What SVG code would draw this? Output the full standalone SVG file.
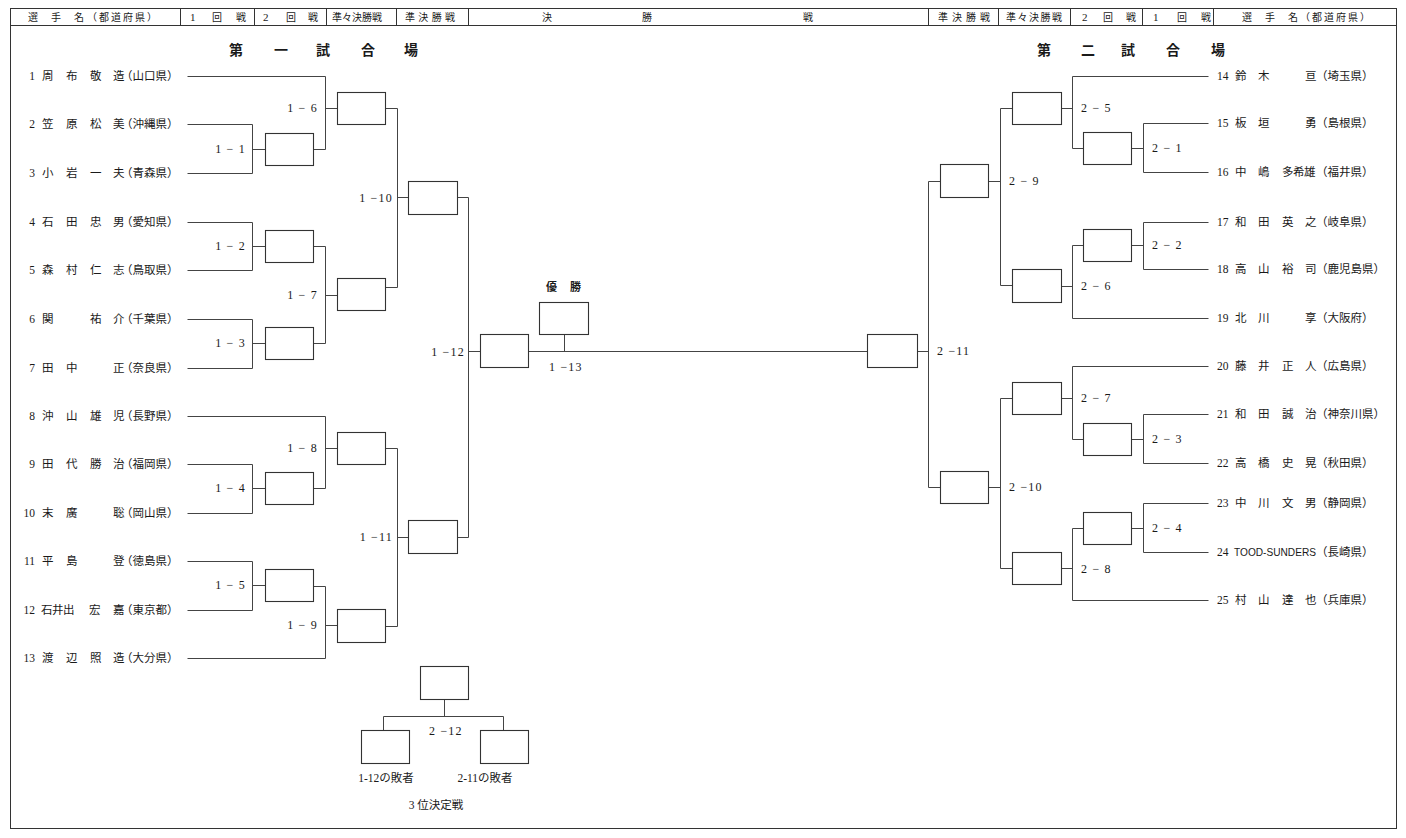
<svg xmlns="http://www.w3.org/2000/svg" width="1406" height="838" viewBox="0 0 1406 838">
<style>
text{font-family:"Liberation Serif","Noto Sans CJK JP",serif;fill:#1a1a1a}
.h{font-family:"Noto Sans CJK JP",sans-serif;font-size:10px}
.hd{font-family:"Liberation Serif","Noto Sans CJK JP",serif;font-size:11px}
.t{font-family:"Noto Sans CJK JP",sans-serif;font-size:14px;font-weight:bold}
.n{font-size:11.5px}
.l{font-size:12px;letter-spacing:1.2px}
.e{text-anchor:end}
.m{text-anchor:middle}
.frame{fill:none;stroke:#333;stroke-width:1}
.ln{fill:none;stroke:#444;stroke-width:1}
.bx{fill:#fff;stroke:#333;stroke-width:1.1}
</style>
<g id="frame" transform="translate(0.5,0.5)">
<rect class="frame" x="10" y="8" width="1386" height="820"/>
<path class="frame" d="M10 25H1396M180 8V25M254 8V25M326 8V25M396 8V25M468 8V25M928 8V25M998 8V25M1070 8V25M1142 8V25M1213 8V25"/>
</g>
<g id="header-text">
<text class="h" x="28 51 74" y="21">選手名</text>
<text class="h" x="87" y="21" textLength="70" lengthAdjust="spacing">（都道府県）</text>
<text class="hd" x="190" y="21">1</text><text class="h" x="212 236" y="21">回戦</text>
<text class="hd" x="263" y="21">2</text><text class="h" x="286 308" y="21">回戦</text>
<text class="h" x="332" y="21" textLength="50" lengthAdjust="spacing">準々決勝戦</text>
<text class="h" x="405" y="21" textLength="50" lengthAdjust="spacing">準決勝戦</text>
<text class="h" x="542 642 803" y="21">決勝戦</text>
<text class="h" x="938" y="21" textLength="52" lengthAdjust="spacing">準決勝戦</text>
<text class="h" x="1006" y="21" textLength="56" lengthAdjust="spacing">準々決勝戦</text>
<text class="hd" x="1082" y="21">2</text><text class="h" x="1103 1126" y="21">回戦</text>
<text class="hd" x="1153" y="21">1</text><text class="h" x="1177 1201" y="21">回戦</text>
<text class="h" x="1242 1265 1288" y="21">選手名</text>
<text class="h" x="1300" y="21" textLength="70" lengthAdjust="spacing">（都道府県）</text>
</g>
<g id="title1"><text class="t" x="229 274 316 361 404" y="55">第一試合場</text></g>
<g id="title2"><text class="t" x="1037 1081 1121 1166 1211" y="55">第二試合場</text></g>

<g id="connectors" class="ln" transform="translate(0.5,0.5)">
<path d="M187 76H325M187 124H252M187 173H252M252 124V173M252 149H265M313 149H325M325 76V149M325 108H337"/>
<path d="M187 222H252M187 270H252M252 222V270M252 246H265M187 319H252M187 368H252M252 319V368M252 343H265M313 246H325M313 343H325M325 246V343M325 295H337"/>
<path d="M385 108H397M385 287H397M397 108V287M397 197H408"/>
<path d="M187 416H325M187 464H252M187 513H252M252 464V513M252 488H265M313 488H325M325 416V488M325 448H337"/>
<path d="M187 561H252M187 610H252M252 561V610M252 585H265M313 586H325M187 658H325M325 586V658M325 625H337"/>
<path d="M385 448H397M385 626H397M397 448V626M397 537H408"/>
<path d="M457 197H468M457 537H468M468 197V537M468 351H480M528 351H867M564 334V351"/>
<path d="M917 351H928M928 181V487M928 181H940M928 487H940"/>
<path d="M988 181H1000M1000 108V285M1000 108H1012M1000 285H1012M1061 108H1072M1072 76V148M1072 76H1208M1072 148H1083M1131 148H1143M1143 123V172M1143 123H1208M1143 172H1208"/>
<path d="M1061 286H1072M1072 245V318M1072 245H1083M1072 318H1208M1131 245H1143M1143 222V269M1143 222H1208M1143 269H1208"/>
<path d="M988 487H1000M1000 398V568M1000 398H1012M1000 568H1012M1061 398H1072M1072 366V439M1072 366H1208M1072 439H1083M1131 439H1143M1143 414V463M1143 414H1208M1143 463H1208"/>
<path d="M1061 568H1072M1072 528V600M1072 528H1083M1072 600H1208M1131 528H1143M1143 503V552M1143 503H1208M1143 552H1208"/>
<path d="M444 699V716M383 716H503M383 716V730M503 716V730"/>
</g>

<g id="matches" transform="translate(0.5,0.5)">
<g id="m1-1"><rect class="bx" x="265" y="133" width="48" height="32"/></g>
<g id="m1-2"><rect class="bx" x="265" y="230" width="48" height="32"/></g>
<g id="m1-3"><rect class="bx" x="265" y="327" width="48" height="32"/></g>
<g id="m1-4"><rect class="bx" x="265" y="472" width="48" height="32"/></g>
<g id="m1-5"><rect class="bx" x="265" y="569" width="48" height="32"/></g>
<g id="m1-6"><rect class="bx" x="337" y="92" width="48" height="32"/></g>
<g id="m1-7"><rect class="bx" x="337" y="278" width="48" height="32"/></g>
<g id="m1-8"><rect class="bx" x="337" y="432" width="48" height="32"/></g>
<g id="m1-9"><rect class="bx" x="337" y="609" width="48" height="33"/></g>
<g id="m1-10"><rect class="bx" x="408" y="181" width="49" height="33"/></g>
<g id="m1-11"><rect class="bx" x="408" y="520" width="49" height="33"/></g>
<g id="m1-12"><rect class="bx" x="480" y="334" width="48" height="33"/></g>
<g id="m1-13"><rect class="bx" x="539" y="302" width="49" height="32"/></g>
<g id="m2-11"><rect class="bx" x="867" y="334" width="50" height="33"/></g>
<g id="m2-9"><rect class="bx" x="940" y="164" width="48" height="33"/></g>
<g id="m2-10"><rect class="bx" x="940" y="471" width="48" height="32"/></g>
<g id="m2-5"><rect class="bx" x="1012" y="92" width="49" height="32"/></g>
<g id="m2-6"><rect class="bx" x="1012" y="269" width="49" height="33"/></g>
<g id="m2-7"><rect class="bx" x="1012" y="382" width="49" height="32"/></g>
<g id="m2-8"><rect class="bx" x="1012" y="552" width="49" height="32"/></g>
<g id="m2-1"><rect class="bx" x="1083" y="132" width="48" height="32"/></g>
<g id="m2-2"><rect class="bx" x="1083" y="229" width="48" height="32"/></g>
<g id="m2-3"><rect class="bx" x="1083" y="423" width="48" height="32"/></g>
<g id="m2-4"><rect class="bx" x="1083" y="512" width="48" height="32"/></g>
<g id="m2-12"><rect class="bx" x="420" y="666" width="48" height="33"/></g>
<g id="loser1"><rect class="bx" x="361" y="730" width="48" height="33"/></g>
<g id="loser2"><rect class="bx" x="480" y="730" width="48" height="33"/></g>
</g>

<g id="match-labels">
<text class="l e" x="246" y="153">1 − 1</text>
<text class="l e" x="246" y="250">1 − 2</text>
<text class="l e" x="246" y="347">1 − 3</text>
<text class="l e" x="246" y="492">1 − 4</text>
<text class="l e" x="246" y="589">1 − 5</text>
<text class="l e" x="318" y="112">1 − 6</text>
<text class="l e" x="318" y="299">1 − 7</text>
<text class="l e" x="318" y="452">1 − 8</text>
<text class="l e" x="318" y="629">1 − 9</text>
<text class="l e" x="393" y="202">1 −10</text>
<text class="l e" x="393" y="541">1 −11</text>
<text class="l e" x="465" y="356">1 −12</text>
<text class="l" x="549" y="371">1 −13</text>
<text class="l" x="937" y="355">2 −11</text>
<text class="l" x="1009" y="185">2 − 9</text>
<text class="l" x="1009" y="491">2 −10</text>
<text class="l" x="1081" y="112">2 − 5</text>
<text class="l" x="1081" y="290">2 − 6</text>
<text class="l" x="1081" y="402">2 − 7</text>
<text class="l" x="1081" y="573">2 − 8</text>
<text class="l" x="1152" y="152">2 − 1</text>
<text class="l" x="1152" y="249">2 − 2</text>
<text class="l" x="1152" y="443">2 − 3</text>
<text class="l" x="1152" y="532">2 − 4</text>
<text class="l" x="429" y="735">2 −12</text>
<text class="h" x="546 570" y="291" style="font-size:11px;font-weight:bold">優勝</text>
<text class="n m" x="386" y="782">1-12の敗者</text>
<text class="n m" x="485" y="782">2-11の敗者</text>
<text class="n m" x="436" y="809">3 位決定戦</text>
</g>

<g id="players-left" class="n">
<g id="p1"><text class="e" x="35" y="80">1</text><text x="42 66 90 113" y="80">周布敬造</text><text x="121" y="80">（山口県）</text></g>
<g id="p2"><text class="e" x="35" y="128">2</text><text x="42 66 90 113" y="128">笠原松美</text><text x="121" y="128">（沖縄県）</text></g>
<g id="p3"><text class="e" x="35" y="177">3</text><text x="42 66 90 113" y="177">小岩一夫</text><text x="121" y="177">（青森県）</text></g>
<g id="p4"><text class="e" x="35" y="226">4</text><text x="42 66 90 113" y="226">石田忠男</text><text x="121" y="226">（愛知県）</text></g>
<g id="p5"><text class="e" x="35" y="274">5</text><text x="42 66 90 113" y="274">森村仁志</text><text x="121" y="274">（鳥取県）</text></g>
<g id="p6"><text class="e" x="35" y="323">6</text><text x="42 90 113" y="323">関祐介</text><text x="121" y="323">（千葉県）</text></g>
<g id="p7"><text class="e" x="35" y="372">7</text><text x="42 66 113" y="372">田中正</text><text x="121" y="372">（奈良県）</text></g>
<g id="p8"><text class="e" x="35" y="420">8</text><text x="42 66 90 113" y="420">沖山雄児</text><text x="121" y="420">（長野県）</text></g>
<g id="p9"><text class="e" x="35" y="468">9</text><text x="42 66 90 113" y="468">田代勝治</text><text x="121" y="468">（福岡県）</text></g>
<g id="p10"><text class="e" x="35" y="517">10</text><text x="42 66 113" y="517">末廣聡</text><text x="121" y="517">（岡山県）</text></g>
<g id="p11"><text class="e" x="35" y="565">11</text><text x="42 66 113" y="565">平島登</text><text x="121" y="565">（徳島県）</text></g>
<g id="p12"><text class="e" x="35" y="614">12</text><text x="41 52 63 89 113" y="614">石井出宏嘉</text><text x="121" y="614">（東京都）</text></g>
<g id="p13"><text class="e" x="35" y="662">13</text><text x="42 66 90 113" y="662">渡辺照造</text><text x="121" y="662">（大分県）</text></g>
</g>

<g id="players-right" class="n">
<g id="p14"><text x="1217" y="80">14</text><text x="1235 1258 1305" y="80">鈴木亘</text><text x="1316" y="80">（埼玉県）</text></g>
<g id="p15"><text x="1217" y="127">15</text><text x="1235 1258 1305" y="127">板垣勇</text><text x="1316" y="127">（島根県）</text></g>
<g id="p16"><text x="1217" y="176">16</text><text x="1235 1258 1282 1293 1304" y="176">中嶋多希雄</text><text x="1316" y="176">（福井県）</text></g>
<g id="p17"><text x="1217" y="226">17</text><text x="1235 1258 1282 1305" y="226">和田英之</text><text x="1316" y="226">（岐阜県）</text></g>
<g id="p18"><text x="1217" y="273">18</text><text x="1235 1258 1282 1305" y="273">高山裕司</text><text x="1316" y="273">（鹿児島県）</text></g>
<g id="p19"><text x="1217" y="322">19</text><text x="1235 1258 1305" y="322">北川享</text><text x="1316" y="322">（大阪府）</text></g>
<g id="p20"><text x="1217" y="370">20</text><text x="1235 1258 1282 1305" y="370">藤井正人</text><text x="1316" y="370">（広島県）</text></g>
<g id="p21"><text x="1217" y="418">21</text><text x="1235 1258 1282 1305" y="418">和田誠治</text><text x="1316" y="418">（神奈川県）</text></g>
<g id="p22"><text x="1217" y="467">22</text><text x="1235 1258 1282 1305" y="467">高橋史晃</text><text x="1316" y="467">（秋田県）</text></g>
<g id="p23"><text x="1217" y="507">23</text><text x="1235 1258 1282 1305" y="507">中川文男</text><text x="1316" y="507">（静岡県）</text></g>
<g id="p24"><text x="1217" y="556">24</text><text x="1234" y="556" style="font-family:'Liberation Sans',sans-serif;font-size:10.5px" textLength="82" lengthAdjust="spacingAndGlyphs">TOOD-SUNDERS</text><text x="1316" y="556">（長崎県）</text></g>
<g id="p25"><text x="1217" y="604">25</text><text x="1235 1258 1282 1305" y="604">村山達也</text><text x="1316" y="604">（兵庫県）</text></g>
</g>
</svg>
